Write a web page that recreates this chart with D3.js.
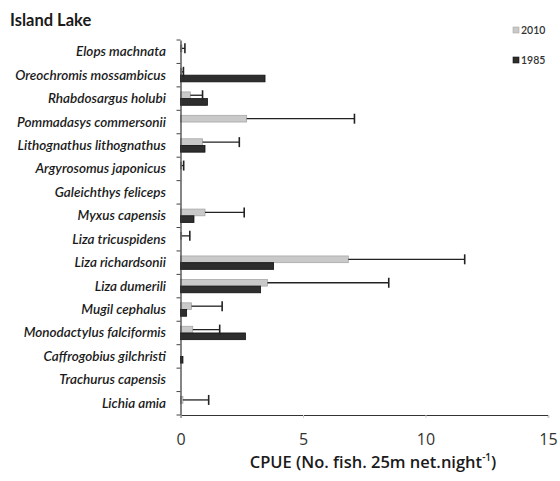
<!DOCTYPE html>
<html><head><meta charset="utf-8">
<script src="https://cdn.jsdelivr.net/npm/d3@7"></script>
<style>
body{margin:0;background:#fff;}
svg{display:block;}
</style></head>
<body>
<svg id="chart" width="560" height="481"></svg>
<script>
const species = ["Elops machnata","Oreochromis mossambicus","Rhabdosargus holubi","Pommadasys commersonii","Lithognathus lithognathus","Argyrosomus japonicus","Galeichthys feliceps","Myxus capensis","Liza tricuspidens","Liza richardsonii","Liza dumerili","Mugil cephalus","Monodactylus falciformis","Caffrogobius gilchristi","Trachurus capensis","Lichia amia"];
const cpue2010 = [0.06,0.06,0.4,2.7,0.9,0.05,0,1.0,0.05,6.85,3.55,0.45,0.5,0,0,0.1];
const err2010  = [0.12,0.06,0.5,4.4,1.5,0.08,0,1.6,0.33,4.75,4.95,1.25,1.1,0,0,1.05];
const cpue1985 = [0,3.45,1.1,0,1.0,0,0,0.55,0,3.8,3.27,0.25,2.65,0.1,0,0];
const seriesNames = ["2010","1985"];
const xTicks = [0,5,10,15];

const colors = {"2010":"#c9c9c9","1985":"#2e2e2e"};
const strokes = {"2010":"#a8a8a8","1985":"#111"};

const svg = d3.select("#chart");
const x = d3.scaleLinear().domain([0,15]).range([180.5,548]);
const y = d3.scaleBand().domain(species).range([40,415]).paddingInner(0).paddingOuter(0);
const ys = d3.scaleBand().domain(seriesNames).range([0,y.bandwidth()]).paddingInner(0).paddingOuter(0.75);

const data = species.map((s,i)=>({s, v:{"2010":cpue2010[i],"1985":cpue1985[i]}, e:err2010[i]}));

// title
svg.append("text").attr("x",10).attr("y",26).attr("font-family","Lato, 'Open Sans', sans-serif")
  .attr("font-weight","bold").attr("font-size",16.5).attr("fill","#1a1a1a").text("Island Lake");

// bars
const g = svg.append("g");
data.forEach(d=>{
  seriesNames.forEach(k=>{
    if(d.v[k]>0){
      g.append("rect")
        .attr("x",x(0)).attr("y",y(d.s)+ys(k))
        .attr("width",x(d.v[k])-x(0)).attr("height",ys.bandwidth())
        .attr("fill",colors[k]).attr("stroke",strokes[k]).attr("stroke-width",0.8);
    }
  });
  if(d.e>0){
    const cy = y(d.s)+ys("2010")+ys.bandwidth()/2;
    const x1 = x(d.v["2010"]), x2 = x(d.v["2010"]+d.e);
    g.append("line").attr("x1",x1).attr("x2",x2).attr("y1",cy).attr("y2",cy)
      .attr("stroke","#222").attr("stroke-width",1.3);
    g.append("line").attr("x1",x2).attr("x2",x2).attr("y1",cy-5).attr("y2",cy+5)
      .attr("stroke","#222").attr("stroke-width",1.6);
  }
});

// y axis
const yAxis = d3.axisLeft(y).tickSize(0).tickFormat("");
const ya = svg.append("g").attr("transform",`translate(${x(0)},0)`).call(yAxis);
ya.select(".domain").attr("stroke","#333").attr("stroke-width",1.2);
// boundary ticks
const bounds = species.map(s=>y(s)).concat([y.range()[1]]);
svg.append("g").selectAll("line").data(bounds).join("line")
  .attr("x1",x(0)-4).attr("x2",x(0)).attr("y1",d=>d).attr("y2",d=>d)
  .attr("stroke","#444").attr("stroke-width",1);
// category labels
svg.append("g").selectAll("text").data(species).join("text")
  .attr("x",166).attr("y",d=>y(d)+y.bandwidth()/2+4.5)
  .attr("text-anchor","end").attr("font-family","Lato, 'Open Sans', sans-serif")
  .attr("font-style","italic").attr("font-weight",600).attr("font-size",13.5)
  .attr("fill","#1a1a1a").text(d=>d);

// x axis
const xAxis = d3.axisBottom(x).tickValues(xTicks).tickSize(3).tickFormat(d3.format("d"));
const xa = svg.append("g").attr("transform","translate(0,415)").call(xAxis);
xa.select(".domain").attr("stroke","#333").attr("stroke-width",1.2);
xa.selectAll(".tick line").attr("stroke","#ccc");
xa.selectAll(".tick text").attr("y",19).attr("font-family","'Open Sans', Lato, sans-serif")
  .attr("font-size",16).attr("fill","#333");

// x title
const xt = svg.append("text").attr("x",373).attr("y",468).attr("text-anchor","middle")
  .attr("font-family","'Open Sans', Lato, sans-serif").attr("font-weight",600).attr("font-size",16.5).attr("fill","#1a1a1a");
xt.append("tspan").text("CPUE (No. fish. 25m net.night");
xt.append("tspan").attr("baseline-shift","super").attr("font-size",10).text("-1");
xt.append("tspan").text(")");

// legend
const leg = svg.append("g");
seriesNames.forEach((k,i)=>{
  const ly = 31 + i*30;
  leg.append("rect").attr("x",513).attr("y",ly-4).attr("width",6).attr("height",6)
    .attr("fill",colors[k]).attr("stroke",strokes[k]).attr("stroke-width",0.6);
  leg.append("text").attr("x",521).attr("y",ly+3).attr("font-family","Lato, 'Open Sans', sans-serif")
    .attr("font-size",10.5).attr("font-weight",600).attr("fill","#333").text(k);
});
</script>
</body></html>
